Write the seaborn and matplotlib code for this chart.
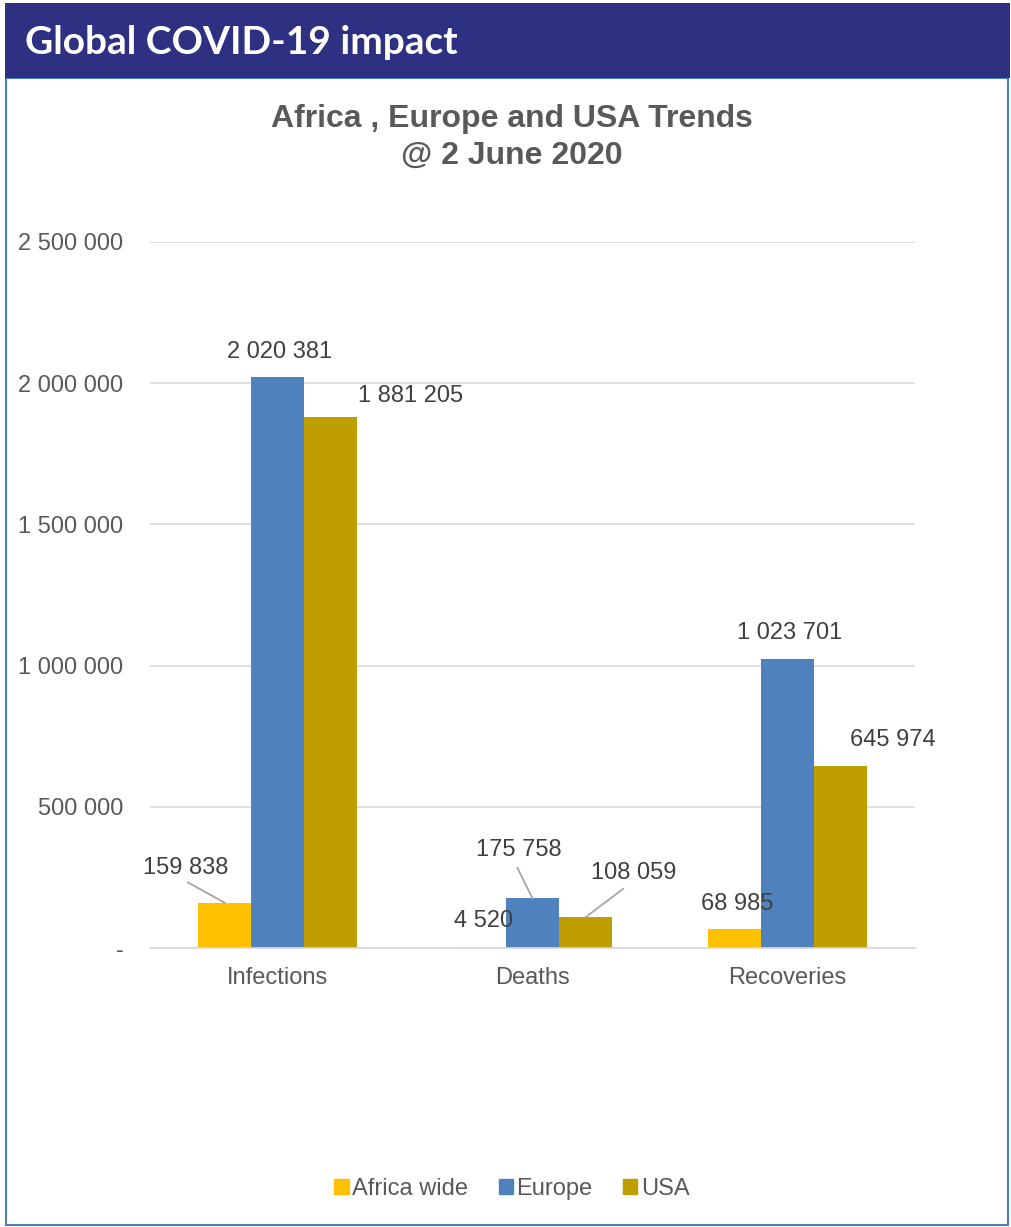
import matplotlib
matplotlib.use("Agg")
import matplotlib.pyplot as plt
import matplotlib.patches as mpatches
from matplotlib.ticker import FuncFormatter
import seaborn as sns
import pandas as pd

# ---- data ----
categories = ["Infections", "Deaths", "Recoveries"]
regions = ["Africa wide", "Europe", "USA"]
africa_vals = [159838, 4520, 68985]
europe_vals = [2020381, 175758, 1023701]
usa_vals = [1881205, 108059, 645974]
colors = ["#FFC000", "#4F81BD", "#BF9F00"]

df = pd.DataFrame({
    "Category": categories * 3,
    "Region": [r for r in regions for _ in categories],
    "Value": africa_vals + europe_vals + usa_vals,
})

sns.set_theme(style="white")
plt.rcParams["font.family"] = ["Liberation Sans", "DejaVu Sans"]

W, H = 1011, 1227
fig = plt.figure(figsize=(W / 100, H / 100), dpi=100)

# header band and frame
fig.patches.append(mpatches.Rectangle((6 / W, 1 - 1225 / H), 1002 / W, (1225 - 78) / H,
                                      transform=fig.transFigure, facecolor="white",
                                      edgecolor="#4A7EBB", linewidth=1.5, zorder=0))
fig.patches.append(mpatches.Rectangle((5 / W, 1 - 78 / H), 1005 / W, 75 / H,
                                      transform=fig.transFigure, facecolor="#2E3082",
                                      edgecolor="none", zorder=1))
fig.text(25 / W, 1 - 42 / H, "Global COVID-19 impact", color="white", fontsize=28,
         fontweight="bold", family=["Lato", "DejaVu Sans"],
         va="center", ha="left")

fig.text(512 / W, 1 - 137 / H, "Africa , Europe and USA Trends\n@ 2 June 2020",
         color="#595959", fontsize=23, fontweight="bold", ha="center", va="center",
         linespacing=1.3)

ax = fig.add_axes([150 / W, 1 - 948 / H, 765 / W, (948 - 242) / H])
ax.set_zorder(5)
ax.patch.set_alpha(0)
sns.barplot(data=df, x="Category", y="Value", hue="Region", hue_order=regions,
            order=categories, palette=colors, width=0.62, gap=0, errorbar=None,
            saturation=1, linewidth=0, ax=ax, legend=True)

ax.set_ylim(0, 2500000)
ax.set_yticks([0, 500000, 1000000, 1500000, 2000000, 2500000])
ax.yaxis.set_major_formatter(FuncFormatter(
    lambda v, p: "-" if v == 0 else f"{int(v):,}".replace(",", " ")))
ax.grid(axis="y", color="#D9D9D9", linewidth=1.2)
ax.set_axisbelow(True)
for s in ["top", "right", "left"]:
    ax.spines[s].set_visible(False)
ax.spines["bottom"].set_color("#D9D9D9")
ax.spines["bottom"].set_linewidth(1.2)
ax.set_xlabel("")
ax.set_ylabel("")
ax.tick_params(axis="both", length=0, labelsize=17, labelcolor="#595959")
ax.tick_params(axis="y", pad=19)
ax.tick_params(axis="x", pad=14)

# data labels (offsets in pixels: dx, dy, leader line)
offsets = {
    ("Africa wide", 0): (-39, 35, True), ("Europe", 0): (2, 25, False), ("USA", 0): (80, 21, False),
    ("Africa wide", 1): (4, 26, False), ("Europe", 1): (-14, 48, True), ("USA", 1): (48, 44, True),
    ("Africa wide", 2): (2, 25, False), ("Europe", 2): (2, 26, False), ("USA", 2): (53, 26, False),
}
for region, cont in zip(regions, ax.containers):
    for i, bar in enumerate(cont):
        val = bar.get_height()
        dx, dy, lead = offsets[(region, i)]
        xc = bar.get_x() + bar.get_width() / 2
        kw = {}
        if lead:
            kw["arrowprops"] = dict(arrowstyle="-", color="#A6A6A6", lw=1.3,
                                    relpos=(0.45, 0), patchA=None,
                                    shrinkA=5, shrinkB=0)
        ax.annotate(f"{int(val):,}".replace(",", " "), xy=(xc, val),
                    xytext=(dx, dy), textcoords="offset pixels",
                    ha="center", va="center", fontsize=17, color="#404040", **kw)

leg = ax.get_legend()
handles = [mpatches.Patch(color=c) for c in colors]
leg.remove()
ax.legend(handles, regions, loc="center", bbox_to_anchor=(512 / W, 1 - 1189 / H),
          bbox_transform=fig.transFigure, ncol=3, frameon=False, fontsize=17,
          handlelength=0.6, handleheight=0.6, handletextpad=0.15, columnspacing=1.3,
          labelcolor="#595959")

fig.savefig("out.png", dpi=100)
